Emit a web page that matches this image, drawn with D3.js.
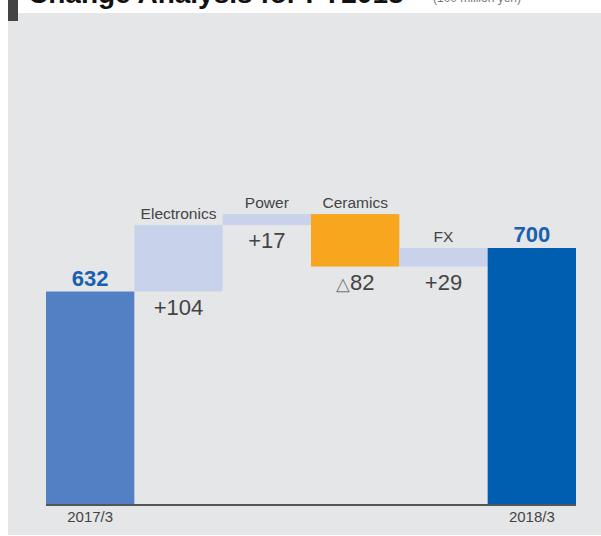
<!DOCTYPE html>
<html>
<head>
<meta charset="utf-8">
<script src="https://cdn.jsdelivr.net/npm/d3@7"></script>
<style>
  body { margin: 0; background: #fff; }
  svg { display: block; font-family: "Liberation Sans", Arial, sans-serif; }
</style>
</head>
<body>
<div id="chart"></div>
<script>
// change analysis, 100 million yen
const steps = ["2017/3", "Electronics", "Power", "Ceramics", "FX", "2018/3"];
const amounts = [632, 104, 17, -82, 29, 700];
const kinds = ["total", "delta", "delta", "delta", "delta", "total"];
const stepLabels = ["", "Electronics", "Power", "Ceramics", "FX", ""];
const axisLabels = ["2017/3", "", "", "", "", "2018/3"];

const width = 601, height = 536;

const svg = d3.select("#chart")
    .append("svg")
    .attr("width", width)
    .attr("height", height);

// panel + title (title sits mostly above the visible area, as in the source)
svg.append("rect")
    .attr("x", 8).attr("y", 13)
    .attr("width", width - 8).attr("height", 522)
    .attr("fill", "#e5e6e8");

svg.append("rect")
    .attr("x", 8).attr("y", 0)
    .attr("width", 10).attr("height", 21)
    .attr("fill", "#444");

svg.append("text")
    .attr("x", 28).attr("y", 3)
    .attr("font-size", 28)
    .attr("font-weight", "bold")
    .attr("fill", "#111")
    .text("Change Analysis for FY2018");

svg.append("text")
    .attr("x", 433).attr("y", 2)
    .attr("font-size", 12)
    .attr("fill", "#777")
    .text("(100 million yen)");

// running totals for the waterfall
let run = 0;
const bars = steps.map((s, i) => {
    let lo, hi;
    if (kinds[i] === "total") {
        lo = null; hi = amounts[i]; run = amounts[i];
    } else {
        const next = run + amounts[i];
        lo = Math.min(run, next); hi = Math.max(run, next);
        run = next;
    }
    return { step: s, value: amounts[i], kind: kinds[i], lo, hi, i };
});

const x = d3.scaleBand()
    .domain(steps)
    .range([46, 576])
    .padding(0);

const y = d3.scaleLinear()
    .domain([300, 800])
    .range([504, 184]);

const fill = (d) => {
    if (d.i === 0) return "#5380c4";
    if (d.kind === "total") return "#005eb0";
    if (d.value < 0) return "#f8a61e";
    return "#c8d3eb";
};

const g = svg.append("g");

g.selectAll("rect.bar")
    .data(bars)
    .join("rect")
    .attr("class", "bar")
    .attr("x", d => x(d.step))
    .attr("width", x.bandwidth())
    .attr("y", d => y(d.hi))
    .attr("height", d => (d.lo === null ? y.range()[0] : y(d.lo)) - y(d.hi))
    .attr("fill", fill);

// baseline
const xAxis = g.append("g")
    .attr("transform", `translate(0,${y.range()[0]})`)
    .call(d3.axisBottom(x).tickSize(0).tickPadding(7).tickFormat((d, i) => axisLabels[i]));
xAxis.select(".domain")
    .attr("stroke", "#555")
    .attr("stroke-width", 2)
    .attr("d", `M46,1H576`);
xAxis.selectAll("text")
    .attr("font-size", 15)
    .attr("font-family", "Liberation Sans, Arial, sans-serif")
    .attr("fill", "#444");

const cx = d => x(d.step) + x.bandwidth() / 2;

// totals above bars
g.selectAll("text.total")
    .data(bars.filter(d => d.kind === "total"))
    .join("text")
    .attr("class", "total")
    .attr("x", cx)
    .attr("y", d => y(d.hi) - 6)
    .attr("text-anchor", "middle")
    .attr("font-size", 22)
    .attr("font-weight", "bold")
    .attr("fill", "#1860b0")
    .text(d => d.value);

// step names above bars
g.selectAll("text.step")
    .data(bars.filter(d => d.kind === "delta"))
    .join("text")
    .attr("class", "step")
    .attr("x", cx)
    .attr("y", d => y(d.hi) - 6)
    .attr("text-anchor", "middle")
    .attr("font-size", 15.5)
    .attr("fill", "#444")
    .text(d => stepLabels[d.i]);

// change amounts below bars; decreases get a triangle mark
const delta = g.selectAll("text.delta")
    .data(bars.filter(d => d.kind === "delta"))
    .join("text")
    .attr("class", "delta")
    .attr("x", cx)
    .attr("y", d => y(d.lo) + 23)
    .attr("text-anchor", "middle")
    .attr("font-size", 22)
    .attr("fill", "#444");

delta.append("tspan")
    .attr("font-size", 18)
    .attr("fill", "#777")
    .text(d => d.value < 0 ? "△" : "");
delta.append("tspan")
    .text(d => (d.value < 0 ? "" : "+") + Math.abs(d.value));
</script>
</body>
</html>
